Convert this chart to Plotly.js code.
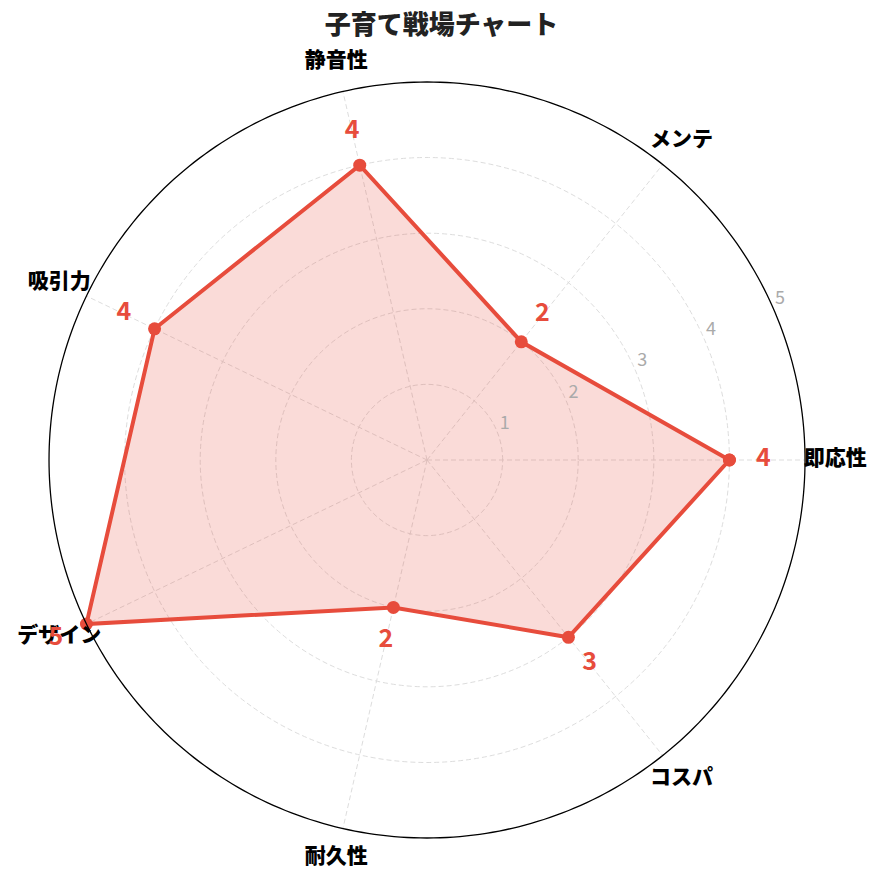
<!DOCTYPE html>
<html>
<head>
<meta charset="utf-8">
<script src="https://cdn.plot.ly/plotly-3.0.1.min.js"></script>
<style>
  html, body { margin: 0; padding: 0; background: #fff; }
  #chart { width: 883px; height: 883px; }
</style>
</head>
<body>
<div id="chart"></div>
<script>
// 項目と評価
const categories = ['即応性', 'メンテ', '静音性', '吸引力', 'デザイン', '耐久性', 'コスパ'];
const scores = [4, 2, 4, 4, 5, 2, 3];
const radialTicks = [1, 2, 3, 4, 5];
const maxScore = 5;

const red = '#e74c3c';
const grid = '#dddddd';
const font = '"Noto Sans CJK JP", "Noto Sans", sans-serif';

// one spoke per category, counterclockwise from the right
const step = 360 / categories.length;
const angles = categories.map((c, i) => i * step);

// spokes stop at the outer ring (the axis range is wider to leave room for labels)
const spokeR = [], spokeT = [];
angles.forEach(a => { spokeR.push(0, maxScore, null); spokeT.push(a, a, null); });
const spokes = {
    type: 'scatterpolar',
    r: spokeR,
    theta: spokeT,
    mode: 'lines',
    line: { color: grid, width: 1, dash: '5px,3px' },
    hoverinfo: 'skip'
};

const ringT = [];
for (let a = 0; a <= 360; a += 1) ringT.push(a);
const ring = {
    type: 'scatterpolar',
    r: ringT.map(() => maxScore),
    theta: ringT,
    mode: 'lines',
    line: { color: '#000', width: 1.3 },
    hoverinfo: 'skip'
};

const area = {
    type: 'scatterpolar',
    r: scores.concat([scores[0]]),
    theta: angles.concat([angles[0]]),
    mode: 'lines+markers',
    fill: 'toself',
    fillcolor: 'rgba(231,76,60,0.2)',
    line: { color: red, width: 4 },
    marker: { color: red, size: 13 },
    hoverinfo: 'skip'
};

// radial tick numbers, upright, beside the 22.5 deg spoke
const tickLabels = {
    type: 'scatterpolar',
    r: radialTicks.map(v => v + 0.13),
    theta: radialTicks.map(() => 24.5),
    mode: 'text',
    text: radialTicks.map(String),
    textfont: { family: font, size: 18, color: '#aaaaaa' },
    cliponaxis: false,
    hoverinfo: 'skip'
};

const catLabels = {
    type: 'scatterpolar',
    r: categories.map(() => 5.4),
    theta: angles,
    mode: 'text',
    text: categories,
    textfont: { family: font, size: 21, color: '#000', weight: 900 },
    cliponaxis: false,
    hoverinfo: 'skip'
};

const valueLabels = {
    type: 'scatterpolar',
    r: scores.map(v => v + 0.45),
    theta: angles,
    mode: 'text',
    text: scores.map(String),
    textfont: { family: font, size: 25, color: red, weight: 'bold' },
    cliponaxis: false,
    hoverinfo: 'skip'
};

const layout = {
    width: 883,
    height: 883,
    margin: { l: 0, r: 0, t: 0, b: 0 },
    paper_bgcolor: '#fff',
    showlegend: false,
    font: { family: font },
    title: {
        text: '子育て戦場チャート',
        font: { family: font, size: 26, color: '#222', weight: 900 },
        x: 0.5,
        xanchor: 'center',
        y: 0.972,
        yanchor: 'middle'
    },
    polar: {
        domain: { x: [0.0127, 0.9545], y: [0.00815, 0.94994] },
        bgcolor: 'rgba(0,0,0,0)',
        radialaxis: {
            range: [0, 5.5],
            tickvals: [1, 2, 3, 4],
            showticklabels: false,
            showline: false,
            ticks: '',
            gridcolor: grid,
            griddash: '5px,3px',
            gridwidth: 1,
            layer: 'below traces'
        },
        angularaxis: {
            thetaunit: 'degrees',
            direction: 'counterclockwise',
            rotation: 0,
            showticklabels: false,
            ticks: '',
            showline: false,
            showgrid: false
        }
    }
};

Plotly.newPlot('chart', [spokes, area, ring, tickLabels, catLabels, valueLabels], layout,
    { displayModeBar: false, staticPlot: true });
</script>
</body>
</html>
